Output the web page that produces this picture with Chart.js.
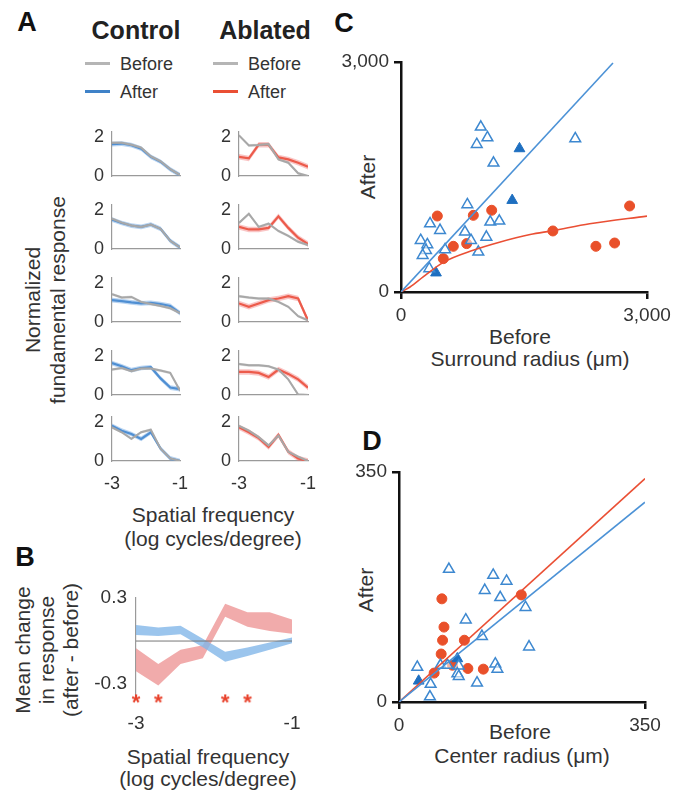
<!DOCTYPE html>
<html>
<head>
<meta charset="utf-8">
<script src="https://cdn.jsdelivr.net/npm/chart.js@4"></script>
<style>
body { margin: 0; background: #fff; }
#fig { position: relative; width: 674px; height: 792px; overflow: hidden; font-family: "Liberation Sans", Arial, sans-serif; color: #333; }
#fig canvas { position: absolute; }
.t { position: absolute; white-space: nowrap; font-size: 21px; line-height: 1; transform: translate(-50%, -50%); text-align: center; }
.l { position: absolute; white-space: nowrap; font-size: 18px; line-height: 1; transform: translateY(-50%); }
.r { transform: translate(-50%, -50%) rotate(-90deg); }
.p { font-weight: bold; font-size: 27px; color: #111; }
.h { font-weight: bold; font-size: 25px; color: #222; }
.k { position: absolute; height: 3px; width: 25px; }
</style>
</head>
<body>
<div id="fig">
  <div class="t p" style="left:27px;top:22px">A</div>
  <div class="t h" style="left:136px;top:30px">Control</div>
  <div class="t h" style="left:265px;top:30px">Ablated</div>
  <div class="k" style="left:85px;top:62px;background:#b5b5b5"></div>
  <div class="l" style="left:120px;top:64px">Before</div>
  <div class="k" style="left:85px;top:90px;background:#3f82c8"></div>
  <div class="l" style="left:120px;top:92px">After</div>
  <div class="k" style="left:213px;top:62px;background:#b5b5b5"></div>
  <div class="l" style="left:248px;top:64px">Before</div>
  <div class="k" style="left:213px;top:90px;background:#ea4f34"></div>
  <div class="l" style="left:248px;top:92px">After</div>
  <div class="t r" style="left:45px;top:300px;line-height:25px">Normalized<br>fundamental response</div>
  <div class="t" style="left:213px;top:514px">Spatial frequency</div>
  <div class="t" style="left:213px;top:538px">(log cycles/degree)</div>

  <div class="t p" style="left:25px;top:557px">B</div>
  <div class="t r" style="left:47px;top:650px;line-height:24px">Mean change<br>in response<br>(after - before)</div>
  <div class="t" style="left:208px;top:756px">Spatial frequency</div>
  <div class="t" style="left:208px;top:778px">(log cycles/degree)</div>

  <div class="t p" style="left:344px;top:23px">C</div>
  <div class="t r" style="left:367px;top:177px">After</div>
  <div class="t" style="left:520px;top:336px">Before</div>
  <div class="t" style="left:530px;top:358px">Surround radius (μm)</div>

  <div class="t p" style="left:372px;top:441px">D</div>
  <div class="t r" style="left:365px;top:590px">After</div>
  <div class="t" style="left:520px;top:731px">Before</div>
  <div class="t" style="left:522px;top:755px">Center radius (μm)</div>
</div>
<script>
// spatial frequency samples (log cycles/degree)
const freqs = [-3, -2.714, -2.429, -2.143, -1.857, -1.571, -1.286, -1];

// A: normalized fundamental response, one row per example cell
const ctrlBefore = [
  [1.70, 1.70, 1.60, 1.45, 1.00, 0.75, 0.35, 0.05],
  [1.55, 1.35, 1.20, 1.13, 1.25, 1.03, 0.42, 0.08],
  [1.42, 1.25, 1.28, 1.03, 0.92, 0.82, 0.70, 0.45],
  [1.30, 1.38, 1.22, 1.35, 1.35, 1.25, 1.13, 0.22],
  [1.72, 1.47, 1.13, 1.47, 1.60, 0.63, 0.13, 0.00]
];
const ctrlAfter = [
  [1.63, 1.66, 1.58, 1.40, 0.98, 0.73, 0.34, 0.05],
  [1.50, 1.33, 1.20, 1.13, 1.25, 1.03, 0.42, 0.08],
  [1.12, 1.07, 1.00, 0.95, 0.98, 0.92, 0.82, 0.45],
  [1.63, 1.47, 1.27, 1.38, 1.42, 0.85, 0.38, 0.30],
  [1.80, 1.55, 1.38, 1.13, 1.47, 0.63, 0.13, 0.00]
];
const ablBefore = [
  [2.08, 1.56, 1.58, 1.63, 0.85, 0.68, 0.14, 0.00],
  [1.33, 1.80, 1.13, 1.30, 0.92, 0.67, 0.37, 0.20],
  [1.32, 1.25, 1.20, 1.20, 1.03, 0.78, 0.30, 0.08],
  [1.58, 1.52, 1.52, 1.47, 1.30, 0.80, 0.02, 0.00],
  [1.80, 1.55, 1.22, 0.80, 1.30, 0.47, 0.22, 0.00]
];
const ablAfter = [
  [0.98, 0.90, 1.60, 1.60, 0.95, 0.85, 0.68, 0.47],
  [1.13, 1.00, 1.00, 1.08, 1.67, 1.08, 0.58, 0.25],
  [0.95, 0.78, 0.95, 1.12, 1.20, 1.32, 1.20, 0.08],
  [1.18, 1.18, 1.13, 0.92, 1.30, 1.08, 0.80, 0.38],
  [1.72, 1.47, 1.17, 0.72, 1.33, 0.47, 0.13, 0.00]
];
const semBefore = 0.07, semCtrl = 0.12, semAbl = 0.14;

// B: mean change (after - before) with error band
const ctrlChange = [0.077, 0.065, 0.077, -0.014, -0.11, -0.075, -0.035, 0.005];
const ctrlChangeSem = [0.035, 0.03, 0.03, 0.03, 0.035, 0.03, 0.025, 0.02];
const ablChange = [-0.13, -0.235, -0.11, -0.075, 0.215, 0.15, 0.135, 0.1];
const ablChangeSem = [0.08, 0.075, 0.05, 0.045, 0.045, 0.05, 0.065, 0.05];
const sigFreqs = [-3, -2.714, -1.857, -1.571];
const zeroX = [-3, -1];
const zeroY = [0, 0];

// C: surround radius (um)
const surrOpenX = [973, 1054, 924, 1128, 2125, 809, 354, 476, 240, 321, 305, 264, 537, 780, 854, 943, 1041, 1089, 1199, 345];
const surrOpenY = [2152, 2013, 1926, 1683, 2000, 1140, 891, 805, 674, 618, 544, 479, 553, 783, 674, 522, 717, 913, 926, 305];
const surrFillX = [1445, 1356, 427];
const surrFillY = [1870, 1196, 250];
const surrAblX = [443, 882, 1106, 638, 801, 516, 1852, 2377, 2605, 2788];
const surrAblY = [991, 1000, 1066, 596, 631, 435, 796, 596, 639, 1122];
const surrCtrlFitX = [0, 2585];
const surrCtrlFitY = [0, 2987];
const surrAblFitX = [0, 110, 270, 520, 880, 1200, 1575, 1850, 2300, 3000];
const surrAblFitY = [0, 65, 196, 390, 545, 650, 750, 800, 890, 990];

// D: center radius (um)
const centOpenX = [71, 134, 153, 122, 144, 180, 95, 118, 185, 26, 59, 85, 69, 137, 140, 83, 85, 111, 45, 44];
const centOpenY = [202, 193, 184, 170, 159, 144, 125, 100, 84, 53, 56, 55, 56, 58, 50, 43, 39, 29, 27, 8];
const centFillX = [28, 83];
const centFillY = [32, 66];
const centAblX = [61, 64, 62, 93, 60, 76, 98, 120, 50, 174];
const centAblY = [157, 114, 94, 94, 73, 56, 51, 50, 44, 163];
const centCtrlFitX = [0, 350];
const centCtrlFitY = [0, 304];
const centAblFitX = [0, 350];
const centAblFitY = [0, 340];

const gray = '#a9a9a9', grayBand = 'rgba(165,165,165,0.35)';
const blue = '#3f82c8', blueBand = 'rgba(100,160,225,0.45)';
const red = '#ea4f34', redBand = 'rgba(240,110,110,0.4)';
const mark = '#3d88d0', markFill = '#1e6fc0', dot = '#e9502a';

Chart.defaults.font.family = '"Liberation Sans", Arial, sans-serif';
Chart.defaults.color = '#333';

const fig = document.getElementById('fig');
const zip = (xs, ys) => xs.map((x, i) => ({ x: x, y: ys[i] }));

// chart area is given in page pixels, axes get fixed sizes so it lands there
function place(area, yw, xh, cfg) {
  const P = 30;
  const [x0, y0, x1, y1] = area;
  const cv = document.createElement('canvas');
  const W = x1 - x0 + yw + 2 * P, H = y1 - y0 + xh + 2 * P;
  cv.width = W; cv.height = H;
  cv.style.left = (x0 - yw - P) + 'px';
  cv.style.top = (y0 - P) + 'px';
  cv.style.width = W + 'px';
  cv.style.height = H + 'px';
  fig.appendChild(cv);
  const o = cfg.options;
  o.responsive = false;
  o.animation = false;
  o.layout = { padding: P };
  o.plugins = { legend: { display: false }, tooltip: { enabled: false } };
  o.scales.x.afterFit = s => { s.height = xh; s.paddingLeft = 0; s.paddingRight = 0; };
  o.scales.y.afterFit = s => { s.width = yw; s.paddingTop = 0; s.paddingBottom = 0; };
  return new Chart(cv, cfg);
}

function band(vals, sem, color) {
  const e = i => Array.isArray(sem) ? sem[i] : sem;
  return [
    { data: freqs.map((f, i) => ({ x: f, y: vals[i] + e(i) })), borderColor: 'rgba(0,0,0,0)', borderWidth: 1, pointRadius: 0, fill: false },
    { data: freqs.map((f, i) => ({ x: f, y: vals[i] - e(i) })), borderColor: 'rgba(0,0,0,0)', borderWidth: 1, pointRadius: 0, fill: '-1', backgroundColor: color }
  ];
}
function trace(xs, ys, color, w) {
  return { data: zip(xs, ys), borderColor: color, borderWidth: w, pointRadius: 0, fill: false };
}

function thinAxis(min, max, ticks, size, pad, show) {
  return {
    type: 'linear', min: min, max: max,
    grid: { display: false, drawTicks: false },
    border: { display: true, color: '#9a9a9a', width: 1.2 },
    ticks: { display: show, font: { size: size }, padding: pad, maxRotation: 0, autoSkip: false },
    afterBuildTicks: s => { s.ticks = ticks.map(v => ({ value: v })); }
  };
}

// panel A small multiples
const rowBase = [176, 249, 322, 395, 461];
rowBase.forEach((b, r) => {
  const last = r === rowBase.length - 1;
  [[112, 180, ctrlBefore, ctrlAfter, semCtrl, blue, blueBand],
   [239, 308, ablBefore, ablAfter, semAbl, red, redBand]].forEach(c => {
    place([c[0], b - 44, c[1], b], 40, 30, {
      type: 'line',
      data: { datasets: [
        ...band(c[2][r], semBefore, grayBand), trace(freqs, c[2][r], gray, 2),
        ...band(c[3][r], c[4], c[6]), trace(freqs, c[3][r], c[5], 2.2)
      ] },
      options: { scales: {
        x: thinAxis(-3, -1, [-3, -1], 18, 12, last),
        y: thinAxis(0, 2.25, [0, 2], 18, 8, true)
      } }
    });
  });
});

// panel B
const star = document.createElement('canvas');
star.width = 16; star.height = 16;
const sc = star.getContext('2d');
sc.fillStyle = '#e8402a';
sc.font = 'bold 22px "Liberation Sans", Arial, sans-serif';
sc.textAlign = 'center';
sc.textBaseline = 'middle';
sc.fillText('*', 8, 13);

const bAx = thinAxis(-3, -1, [-3, -1], 19, 15, true);
bAx.border = { display: false };
place([136, 598, 292, 697], 60, 40, {
  type: 'line',
  data: { datasets: [
    trace(zeroX, zeroY, '#777', 1),
    ...band(ctrlChange, ctrlChangeSem, 'rgba(130,182,232,0.8)'),
    ...band(ablChange, ablChangeSem, 'rgba(238,150,150,0.8)'),
    { data: sigFreqs.map(f => ({ x: f, y: -0.4 })), showLine: false, pointStyle: star, pointRadius: 8, clip: false }
  ] },
  options: { scales: {
    x: bAx,
    y: thinAxis(-0.39, 0.3, [-0.3, 0.3], 19, 9, true)
  } }
});

// panels C and D
function boldAxis(max) {
  return {
    type: 'linear', min: 0, max: max,
    border: { display: true, color: '#111', width: 2.5 },
    grid: { display: true, drawOnChartArea: false, drawTicks: true, tickLength: 7, color: '#111', lineWidth: 2.5 },
    ticks: { font: { size: 19 }, padding: 5, maxRotation: 0, autoSkip: false, callback: v => v.toLocaleString('en-US') },
    afterBuildTicks: s => { s.ticks = [{ value: 0 }, { value: max }]; }
  };
}
function scatterPanel(area, max, d) {
  place(area, 64, 40, {
    type: 'scatter',
    data: { datasets: [
      { type: 'line', data: zip(d[0], d[1]), borderColor: '#4c92d6', borderWidth: 1.6, pointRadius: 0, fill: false },
      { type: 'line', data: zip(d[2], d[3]), borderColor: red, borderWidth: 1.6, pointRadius: 0, fill: false, cubicInterpolationMode: 'monotone' },
      { data: zip(d[4], d[5]), pointStyle: 'triangle', pointRadius: 6.2, borderColor: mark, backgroundColor: 'rgba(255,255,255,0.6)', borderWidth: 1.5 },
      { data: zip(d[6], d[7]), pointStyle: 'triangle', pointRadius: 6.2, borderColor: markFill, backgroundColor: markFill, borderWidth: 1 },
      { data: zip(d[8], d[9]), pointStyle: 'circle', pointRadius: 5, borderColor: dot, backgroundColor: dot, borderWidth: 1 }
    ] },
    options: { scales: { x: boldAxis(max), y: boldAxis(max) } }
  });
}
scatterPanel([401, 62, 647, 292], 3000,
  [surrCtrlFitX, surrCtrlFitY, surrAblFitX, surrAblFitY, surrOpenX, surrOpenY, surrFillX, surrFillY, surrAblX, surrAblY]);
scatterPanel([399, 472, 645, 702], 350,
  [centCtrlFitX, centCtrlFitY, centAblFitX, centAblFitY, centOpenX, centOpenY, centFillX, centFillY, centAblX, centAblY]);
</script>
</body>
</html>
